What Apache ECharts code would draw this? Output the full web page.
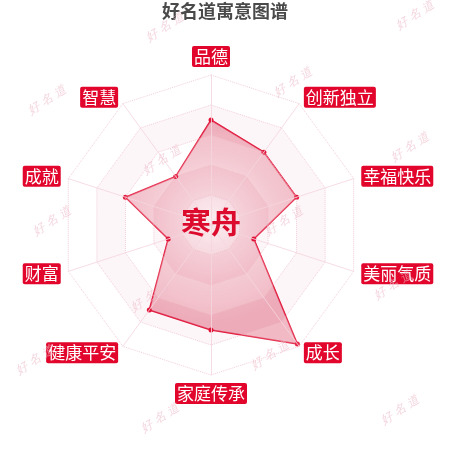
<!DOCTYPE html>
<html>
<head>
<meta charset="utf-8">
<script src="https://cdn.jsdelivr.net/npm/echarts@6/dist/echarts.min.js"></script>
<style>
html, body { margin: 0; padding: 0; background: #fff; }
#chart { width: 450px; height: 450px; }
</style>
</head>
<body>
<div id="chart"></div>
<script>
// clockwise from the top, as in the picture
var indicatorNames = ["品德", "创新独立", "幸福快乐", "美丽气质", "成长", "家庭传承", "健康平安", "财富", "成就", "智慧"];
var scoreValues = [70, 60, 60, 30, 98, 70, 70, 30, 60, 40];
var scoreMax = 100;
var personName = "寒舟";

// watermark spots, layout only
var markSpots = [
    [165, 27], [415, 15], [293, 82], [47, 100], [410, 147], [162, 160],
    [52, 221], [284, 221], [393, 285], [150, 297], [35, 360], [270, 355],
    [160, 418], [400, 410]
];

// echarts lays radar axes out counter-clockwise, so flip everything after the first
function clockwise(arr) {
    return [arr[0]].concat(arr.slice(1).reverse());
}

var chart = echarts.init(document.getElementById("chart"));

var graphics = markSpots.map(function (p) {
    return {
        type: "text",
        x: p[0],
        y: p[1],
        rotation: Math.PI / 180 * 34,
        z: 100,
        silent: true,
        style: {
            text: "好 名 道",
            fontSize: 12,
            fontStyle: "italic",
            fill: "rgba(238,192,204,0.65)",
            align: "center",
            verticalAlign: "middle"
        }
    };
});
graphics.push({
    type: "text",
    x: 211,
    y: 222,
    z: 101,
    style: {
        text: personName,
        fontSize: 30,
        fontWeight: "bold",
        fontFamily: "Noto Sans CJK SC",
        fill: "#dc0a2d",
        align: "center",
        verticalAlign: "middle"
    }
});

var option = {
    title: {
        text: "好名道寓意图谱",
        left: "center",
        top: 0,
        padding: [2, 0],
        textStyle: {
            fontSize: 18,
            fontWeight: "bold",
            color: "#4a4a4a",
            fontFamily: "Noto Sans CJK SC"
        }
    },
    radar: {
        z: 3,
        center: [211, 225],
        radius: 150,
        splitNumber: 5,
        nameGap: 8,
        indicator: clockwise(indicatorNames).map(function (n) {
            return { name: n, max: scoreMax };
        }),
        axisName: {
            color: "#fff",
            backgroundColor: "#e2062c",
            fontSize: 17,
            fontFamily: "Noto Sans CJK SC",
            padding: [2, 2],
            borderRadius: 2
        },
        axisLine: {
            lineStyle: { color: "rgba(244,214,222,0.85)", width: 1 }
        },
        splitLine: {
            lineStyle: { color: "rgba(236,185,198,0.7)", type: "dotted", width: 1 }
        },
        splitArea: {
            areaStyle: {
                color: ["rgba(255,255,255,0.15)", "rgba(236,160,180,0.09)"]
            }
        }
    },
    series: [{
        type: "radar",
        z: 2,
        symbol: "circle",
        symbolSize: 5,
        itemStyle: { color: "#e2062c" },
        lineStyle: { color: "#e2062c", width: 1.5 },
        areaStyle: {
            color: {
                type: "radial",
                x: 0.5,
                y: 0.45,
                r: 0.6,
                colorStops: [
                    { offset: 0, color: "rgba(247,222,229,0.9)" },
                    { offset: 1, color: "rgba(222,92,118,0.72)" }
                ]
            }
        },
        data: [{ value: clockwise(scoreValues), name: personName }]
    }],
    graphic: graphics
};

chart.setOption(option);
window.addEventListener("resize", chart.resize);
</script>
</body>
</html>
